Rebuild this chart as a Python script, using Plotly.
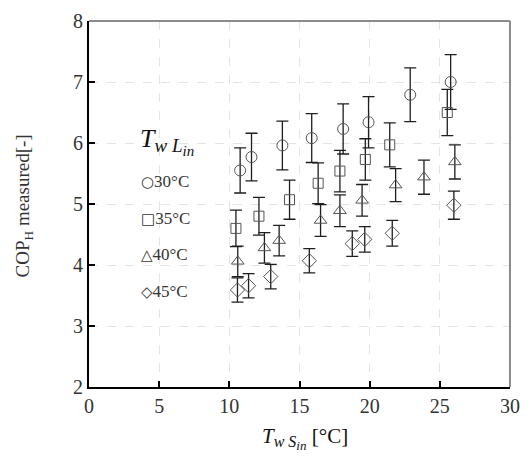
import plotly.graph_objects as go

# Inlet source-side water temperature [°C] and measured COP_H per load inlet temperature
t_ws_30 = [10.77, 11.58, 13.78, 15.87, 18.11, 19.92, 22.89, 25.77]
cop_30 = [5.55, 5.77, 5.96, 6.08, 6.23, 6.34, 6.79, 7.00]
err_30 = [0.37, 0.39, 0.40, 0.40, 0.41, 0.42, 0.44, 0.45]

t_ws_35 = [10.47, 12.11, 14.29, 16.33, 17.88, 19.69, 21.43, 25.53]
cop_35 = [4.60, 4.80, 5.07, 5.34, 5.54, 5.73, 5.97, 6.50]
err_35 = [0.30, 0.31, 0.32, 0.335, 0.34, 0.34, 0.36, 0.38]

t_ws_40 = [10.60, 12.50, 13.55, 16.50, 17.88, 19.46, 21.85, 23.87, 26.07]
cop_40 = [4.06, 4.28, 4.40, 4.73, 4.89, 5.06, 5.31, 5.44, 5.69]
err_40 = [0.25, 0.25, 0.25, 0.26, 0.26, 0.26, 0.27, 0.28, 0.28]

t_ws_45 = [10.58, 11.37, 12.95, 15.70, 18.76, 19.65, 21.61, 26.00]
cop_45 = [3.59, 3.66, 3.81, 4.07, 4.35, 4.42, 4.52, 4.98]
err_45 = [0.20, 0.20, 0.20, 0.20, 0.21, 0.21, 0.21, 0.23]

series_labels = ["30°C", "35°C", "40°C", "45°C"]
series_glyphs = ["○", "□", "△", "◇"]
x_ticks = [0, 5, 10, 15, 20, 25, 30]
y_ticks = [2, 3, 4, 5, 6, 7, 8]

SERIF = "Liberation Serif, Times New Roman, serif"
MARKER_LINE = "#555555"
BAR_COLOR = "#1e1e1e"

series = [
    (t_ws_30, cop_30, err_30, "circle-open", 11),
    (t_ws_35, cop_35, err_35, "square-open", 10),
    (t_ws_40, cop_40, err_40, "triangle-up-open", 11),
    (t_ws_45, cop_45, err_45, "diamond-open", 11),
]

fig = go.Figure()
for (xs, ys, es, sym, size), name in zip(series, series_labels):
    fig.add_trace(go.Scatter(
        x=xs, y=ys, mode="markers", name=name, showlegend=False,
        marker=dict(symbol=sym, size=size, color=MARKER_LINE,
                    line=dict(width=1, color=MARKER_LINE)),
        error_y=dict(type="data", array=es, visible=True,
                     color=BAR_COLOR, thickness=1.3, width=6),
    ))

# Plot area geometry in pixels (used to place the text annotations)
L, R, T, B = 88.5, 520.0, 16.0, 387.3
W, H = R - L, B - T


def px_x(px):
    return (px - L) / W


def px_y(py):
    return (B - py) / H


def temp_symbol(sub, big, mid, small):
    """Italic T with a two-level subscript, e.g. T_{w L_in}."""
    return (f"<i>T</i><sub><span style='font-size:{mid}px'><i>{sub}</i></span>"
            f"<sub><span style='font-size:{small}px'><i>in</i></span></sub></sub>")


annotations = []

# Legend title: T_{w L_in}
annotations.append(dict(
    xref="paper", yref="paper", x=px_x(139), y=px_y(138),
    xanchor="left", yanchor="middle", showarrow=False,
    text=temp_symbol("w L", 26, 19, 15),
    font=dict(family=SERIF, size=26, color="#111111"),
))

# Legend entries: symbol + temperature label
legend_rows = [179, 216, 253, 290.7]
for glyph, label, py in zip(series_glyphs, series_labels, legend_rows):
    annotations.append(dict(
        xref="paper", yref="paper", x=px_x(140), y=px_y(py),
        xanchor="left", yanchor="middle", showarrow=False,
        text=f"<span style='font-family:DejaVu Sans;font-size:15px'>{glyph}</span>{label}",
        font=dict(family=SERIF, size=17, color="#333333"),
    ))

# Axis titles
annotations.append(dict(
    xref="paper", yref="paper", x=px_x(310), y=px_y(440),
    xanchor="center", yanchor="middle", showarrow=False,
    text=temp_symbol("w S", 21, 16, 13) + " [°C]",
    font=dict(family=SERIF, size=21, color="#111111"),
))
annotations.append(dict(
    xref="paper", yref="paper", x=px_x(22), y=px_y(204),
    xanchor="center", yanchor="middle", showarrow=False, textangle=-90,
    text="COP<sub>H</sub> measured[-]",
    font=dict(family=SERIF, size=19, color="#333333"),
))

axis_common = dict(
    showgrid=True, gridcolor="#e4e4e4", gridwidth=1, griddash="dash",
    zeroline=False, showline=True, linecolor="#000000", linewidth=2,
    ticks="inside", ticklen=6, tickwidth=2, tickcolor="#000000",
    tickfont=dict(family=SERIF, size=20, color="#333333"),
)

fig.update_layout(
    width=530, height=463,
    margin=dict(l=L, r=530 - R, t=T, b=463 - B),
    plot_bgcolor="white", paper_bgcolor="white",
    xaxis=dict(range=[0, 30], tickvals=x_ticks, ticktext=[str(v) for v in x_ticks],
               **axis_common),
    yaxis=dict(range=[2, 8], tickvals=y_ticks, ticktext=[str(v) for v in y_ticks],
               **axis_common),
    annotations=annotations,
    shapes=[
        # grey frame on the top and right edges
        dict(type="line", xref="paper", yref="paper", x0=0, x1=1, y0=1, y1=1,
             line=dict(color="#8c8c8c", width=2)),
        dict(type="line", xref="paper", yref="paper", x0=1, x1=1, y0=0, y1=1,
             line=dict(color="#8c8c8c", width=2)),
    ],
)

fig.write_html("out.html")
